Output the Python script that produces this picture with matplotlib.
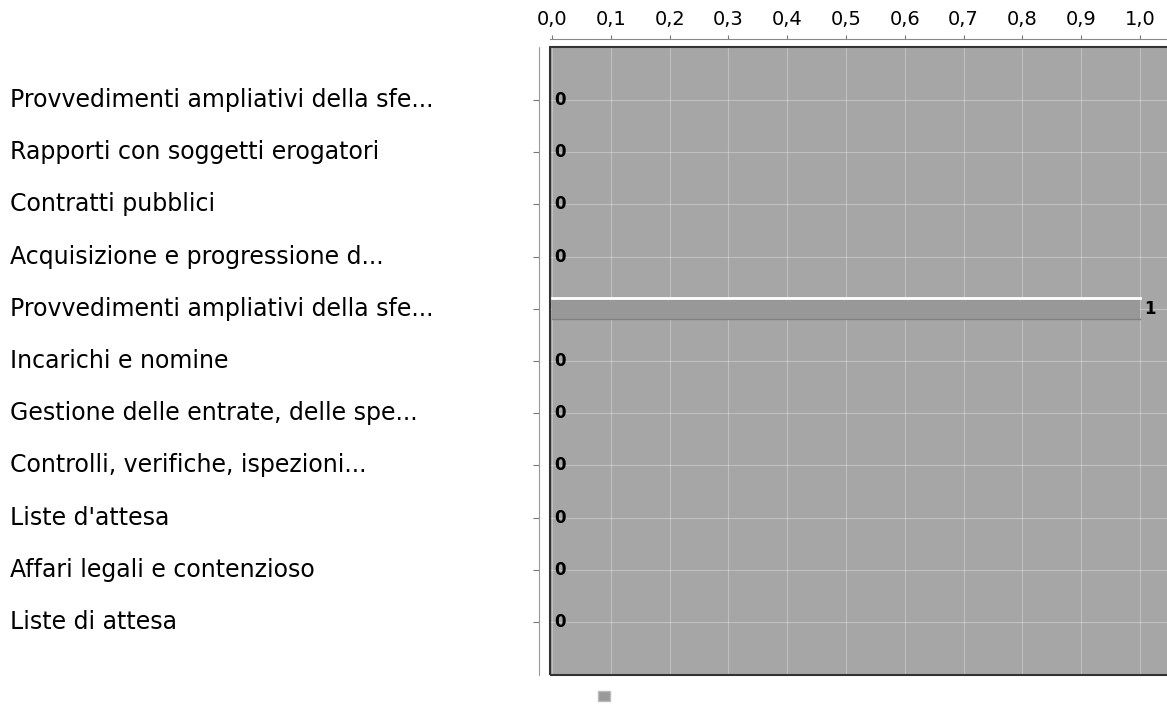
import matplotlib.pyplot as plt
from matplotlib.patches import Rectangle, Patch
from matplotlib.ticker import FuncFormatter
from matplotlib.transforms import blended_transform_factory

categorie = ["Provvedimenti ampliativi della sfe...",
             "Rapporti con soggetti erogatori",
             "Contratti pubblici",
             "Acquisizione e progressione d...",
             "Provvedimenti ampliativi della sfe...",
             "Incarichi e nomine",
             "Gestione delle entrate, delle spe...",
             "Controlli, verifiche, ispezioni...",
             "Liste d'attesa",
             "Affari legali e contenzioso",
             "Liste di attesa"]
valori = [0, 0, 0, 0, 1, 0, 0, 0, 0, 0, 0]
tick_x = [0.0, 0.1, 0.2, 0.3, 0.4, 0.5, 0.6, 0.7, 0.8, 0.9, 1.0]

fig = plt.figure(figsize=(11.67, 7.04), dpi=100)
ax = fig.add_axes([550 / 1167, 1 - 675 / 704, 617 / 1167, 628 / 704])
ax.set_facecolor('#a6a6a6')

pos = list(range(len(categorie)))
ax.barh(pos, valori, height=0.4, color='#989898', edgecolor='none', zorder=2)
# bordo bianco sopra la barra
for p, v in zip(pos, valori):
    if v > 0:
        ax.plot([0, v], [p - 0.2, p - 0.2], color='white', lw=2, zorder=3)
        ax.plot([0, v], [p + 0.2, p + 0.2], color='#808080', lw=1, zorder=3)

for p, v in zip(pos, valori):
    if v > 0:
        ax.text(v + 0.008, p, str(v), va='center', ha='left', fontsize=12,
                fontweight='bold', color='black')
    else:
        ax.text(0.004, p, str(v), va='center', ha='left', fontsize=12,
                fontweight='bold', color='black')

ax.set_xlim(-0.0035, 1.046)
ax.set_ylim(11.015, -1.015)

ax.xaxis.tick_top()
ax.set_xticks(tick_x)
ax.xaxis.set_major_formatter(FuncFormatter(lambda x, p: f"{x:.1f}".replace('.', ',')))
ax.set_yticks(pos)
ax.set_yticklabels([])
ax.tick_params(axis='y', length=4, color='#777777')
ax.tick_params(axis='x', length=3, color='#777777', labelsize=14, pad=4)

# etichette delle categorie allineate a sinistra
tr = blended_transform_factory(fig.transFigure, ax.transData)
for p, c in zip(pos, categorie):
    ax.text(10 / 1167, p, c, transform=tr, ha='left', va='center', fontsize=17,
            clip_on=False)

ax.grid(True, color='white', alpha=0.3, lw=0.8, zorder=1)
ax.set_axisbelow(True)

for s in ['right', 'bottom']:
    ax.spines[s].set_visible(False)
ax.spines['top'].set_position(('outward', 6))
ax.spines['top'].set_color('#888888')
ax.spines['left'].set_position(('outward', 8))
ax.spines['left'].set_color('#999999')
ax.spines['left'].set_linestyle((0, (1, 1)))

ax.add_patch(Rectangle((0, 0), 1.2, 1, transform=ax.transAxes, fill=False,
                       edgecolor='#333333', lw=1.5, zorder=4, clip_on=False))

fig.legend(handles=[Patch(facecolor='#999999', edgecolor='#bbbbbb')], labels=[''],
           loc='center', bbox_to_anchor=(604 / 1167, 1 - 697 / 704), frameon=False,
           handlelength=0.8, handleheight=0.8, handletextpad=0)

plt.savefig("out.png", dpi=100)
